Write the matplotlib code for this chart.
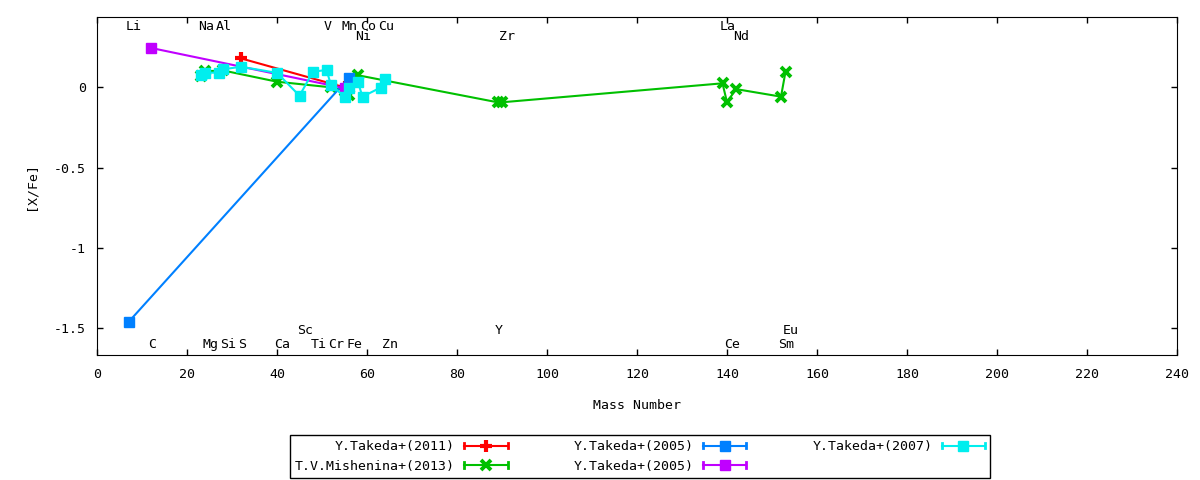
import numpy as np
import matplotlib
matplotlib.use('Agg')
from matplotlib import pyplot as plt
from matplotlib.legend_handler import HandlerLine2D
from matplotlib.lines import Line2D

plt.rcParams['font.family'] = 'DejaVu Sans Mono'
plt.rcParams['font.size'] = 9.5
plt.rcParams['axes.unicode_minus'] = False

# element labels: name, mass number, row (0 = top, 1 = second, 2 = lower-upper, 3 = bottom)
elem_names = ['Li', 'C', 'Na', 'Mg', 'Al', 'Si', 'S', 'Ca', 'Sc', 'Ti', 'V', 'Cr', 'Mn',
              'Fe', 'Ni', 'Co', 'Cu', 'Zn', 'Y', 'Zr', 'La', 'Ce', 'Nd', 'Sm', 'Eu']
elem_mass = [7, 12, 23, 24, 27, 28, 32, 40, 45, 48, 51, 52, 55,
             56, 58, 59, 63, 64, 89, 90, 139, 140, 142, 152, 153]
elem_row = [0, 3, 0, 3, 0, 3, 3, 3, 2, 3, 0, 3, 0,
            3, 1, 0, 0, 3, 2, 1, 0, 3, 1, 3, 2]
row_y = [0.377, 0.315, -1.515, -1.599]

# Y.Takeda+(2011)
takeda11_mass = [32, 55]
takeda11_val = [0.18, 0.0]
# T.V.Mishenina+(2013)
mish13_mass = [23, 24, 28, 40, 52, 55, 56, 58, 89, 90, 139, 140, 142, 152, 153]
mish13_val = [0.07, 0.10, 0.105, 0.035, 0.0, -0.02, -0.048, 0.075,
              -0.093, -0.093, 0.025, -0.093, -0.011, -0.058, 0.097]
# Y.Takeda+(2005), blue
takeda05a_mass = [7, 56]
takeda05a_val = [-1.46, 0.06]
# Y.Takeda+(2005), purple
takeda05b_mass = [12, 55]
takeda05b_val = [0.245, -0.005]
# Y.Takeda+(2007)
takeda07_mass = [23, 24, 27, 28, 32, 40, 45, 48, 51, 52, 55, 56, 58, 59, 63, 64]
takeda07_val = [0.077, 0.091, 0.091, 0.112, 0.128, 0.09, -0.052, 0.097,
                0.108, 0.014, -0.058, -0.006, 0.031, -0.058, -0.002, 0.052]


class CapHandler(HandlerLine2D):
    # gnuplot style key sample: line with end bars and a point in the middle
    def create_artists(self, legend, orig_handle, xdescent, ydescent,
                       width, height, fontsize, trans):
        arts = super().create_artists(legend, orig_handle, xdescent, ydescent,
                                      width, height, fontsize, trans)
        y = height / 2 - ydescent
        h = height * 0.3
        for x in (-xdescent, -xdescent + width):
            cap = Line2D([x, x], [y - h, y + h], color=orig_handle.get_color(), lw=2)
            cap.set_transform(trans)
            arts.append(cap)
        return arts


fig = plt.figure(figsize=(12, 4.8), dpi=100)
ax = fig.add_axes([97 / 1200, 1 - 355 / 480, 1080 / 1200, 338 / 480])

l1, = ax.plot(takeda11_mass, takeda11_val, color='#ff0000', lw=1.5, marker='+',
              ms=8, mew=3, label='Y.Takeda+(2011)')
l2, = ax.plot(mish13_mass, mish13_val, color='#00c000', lw=1.5, marker='x',
              ms=6.5, mew=2.8, label='T.V.Mishenina+(2013)')
l3, = ax.plot(takeda05a_mass, takeda05a_val, color='#0080ff', lw=1.5, marker='s',
              ms=7, label='Y.Takeda+(2005)')
l4, = ax.plot(takeda05b_mass, takeda05b_val, color='#c000ff', lw=1.5, marker='s',
              ms=7, label='Y.Takeda+(2005)')
l5, = ax.plot(takeda07_mass, takeda07_val, color='#00eeee', lw=1.5, marker='s',
              ms=7.5, label='Y.Takeda+(2007)')

for name, m, r in zip(elem_names, elem_mass, elem_row):
    ax.text(m - 0.6, row_y[r], name, ha='left', va='center', fontsize=9.5)

ax.set_xlim(0, 240)
ax.set_ylim(-1.665, 0.4375)
ax.set_xticks(np.arange(0, 241, 20))
ax.set_yticks([0, -0.5, -1, -1.5])
ax.yaxis.set_major_formatter(plt.FormatStrFormatter('%g'))
ax.tick_params(direction='in', top=True, right=True, length=4.5, width=1)
ax.tick_params(axis='x', pad=9)
ax.tick_params(axis='y', pad=8)
ax.set_xlabel('Mass Number', labelpad=13)
ax.set_ylabel('[X/Fe]', labelpad=12)

leg = fig.legend(handles=[l1, l2, l3, l4, l5], ncol=3, markerfirst=False,
                 loc='upper center', bbox_to_anchor=(640 / 1200, 1 - 435 / 480),
                 borderaxespad=0, numpoints=1, handlelength=3.3, handletextpad=0.7,
                 columnspacing=5.0, labelspacing=0.5, borderpad=0.4,
                 fancybox=False, framealpha=1, edgecolor='black',
                 handler_map={Line2D: CapHandler()}, markerscale=1.0)
leg.get_frame().set_linewidth(1)

plt.savefig('out.png', dpi=100)
plt.close()
